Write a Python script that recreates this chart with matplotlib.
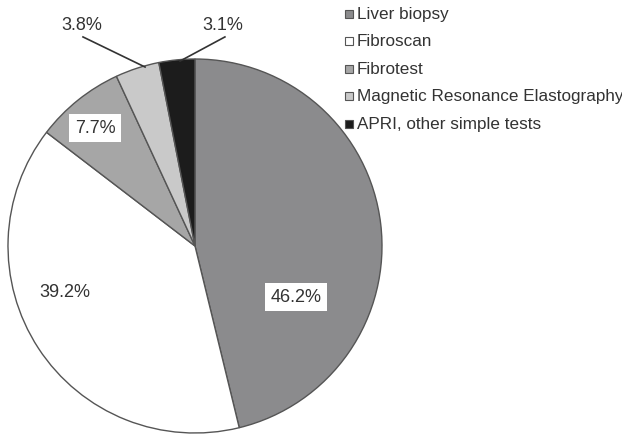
import matplotlib
matplotlib.use("Agg")
import matplotlib.pyplot as plt
from matplotlib.patches import Rectangle

plt.rcParams['font.family'] = ['Liberation Sans', 'DejaVu Sans']

categories = ["Liver biopsy", "Fibroscan", "Fibrotest",
              "Magnetic Resonance Elastography", "APRI, other simple tests"]
values = [46.2, 39.2, 7.7, 3.8, 3.1]
labels = ["46.2%", "39.2%", "7.7%", "3.8%", "3.1%"]
colors = ["#8b8b8d", "#ffffff", "#a6a6a6", "#c9c9c9", "#1c1c1c"]

fig = plt.figure(figsize=(6.22, 4.4), dpi=100)
ax = fig.add_axes([8/622, 7/440, 374/622, 374/440])
wedges, _ = ax.pie(values, colors=colors, startangle=90, counterclock=False,
                   wedgeprops=dict(edgecolor="#555555", linewidth=1.0))
ax.set_xlim(-1, 1)
ax.set_ylim(-1, 1)
ax.set_aspect("equal")
ax.axis("off")

txt = dict(fontsize=13, color="#333333", ha="center", va="center")
box = dict(boxstyle="square,pad=0.3", fc="white", ec="none")
ax.text(0.54, -0.273, labels[0], bbox=box, **txt)
ax.text(-0.695, -0.251, labels[1], **txt)
ax.text(-0.535, 0.631, labels[2], bbox=box, **txt)
ax.text(-0.604, 1.18, labels[3], clip_on=False, **txt)
ax.text(0.15, 1.18, labels[4], clip_on=False, **txt)
ax.plot([-0.599, -0.267], [1.118, 0.957], color="#333333", lw=1.2,
        clip_on=False)
ax.plot([0.16, -0.08], [1.118, 0.989], color="#333333", lw=1.2,
        clip_on=False)

# legend
y0 = 14
for i, (c, name) in enumerate(zip(colors, categories)):
    yp = y0 + 27.5 * i
    fy = 1 - yp / 440
    fig.patches.append(Rectangle((345/622, fy - 4/440), 8/622, 8/440,
                                 transform=fig.transFigure, fc=c,
                                 ec="#555555", lw=0.8))
    fig.text(357/622, fy, name, fontsize=12.3, color="#333333",
             ha="left", va="center")

fig.savefig("out.png", dpi=100)
